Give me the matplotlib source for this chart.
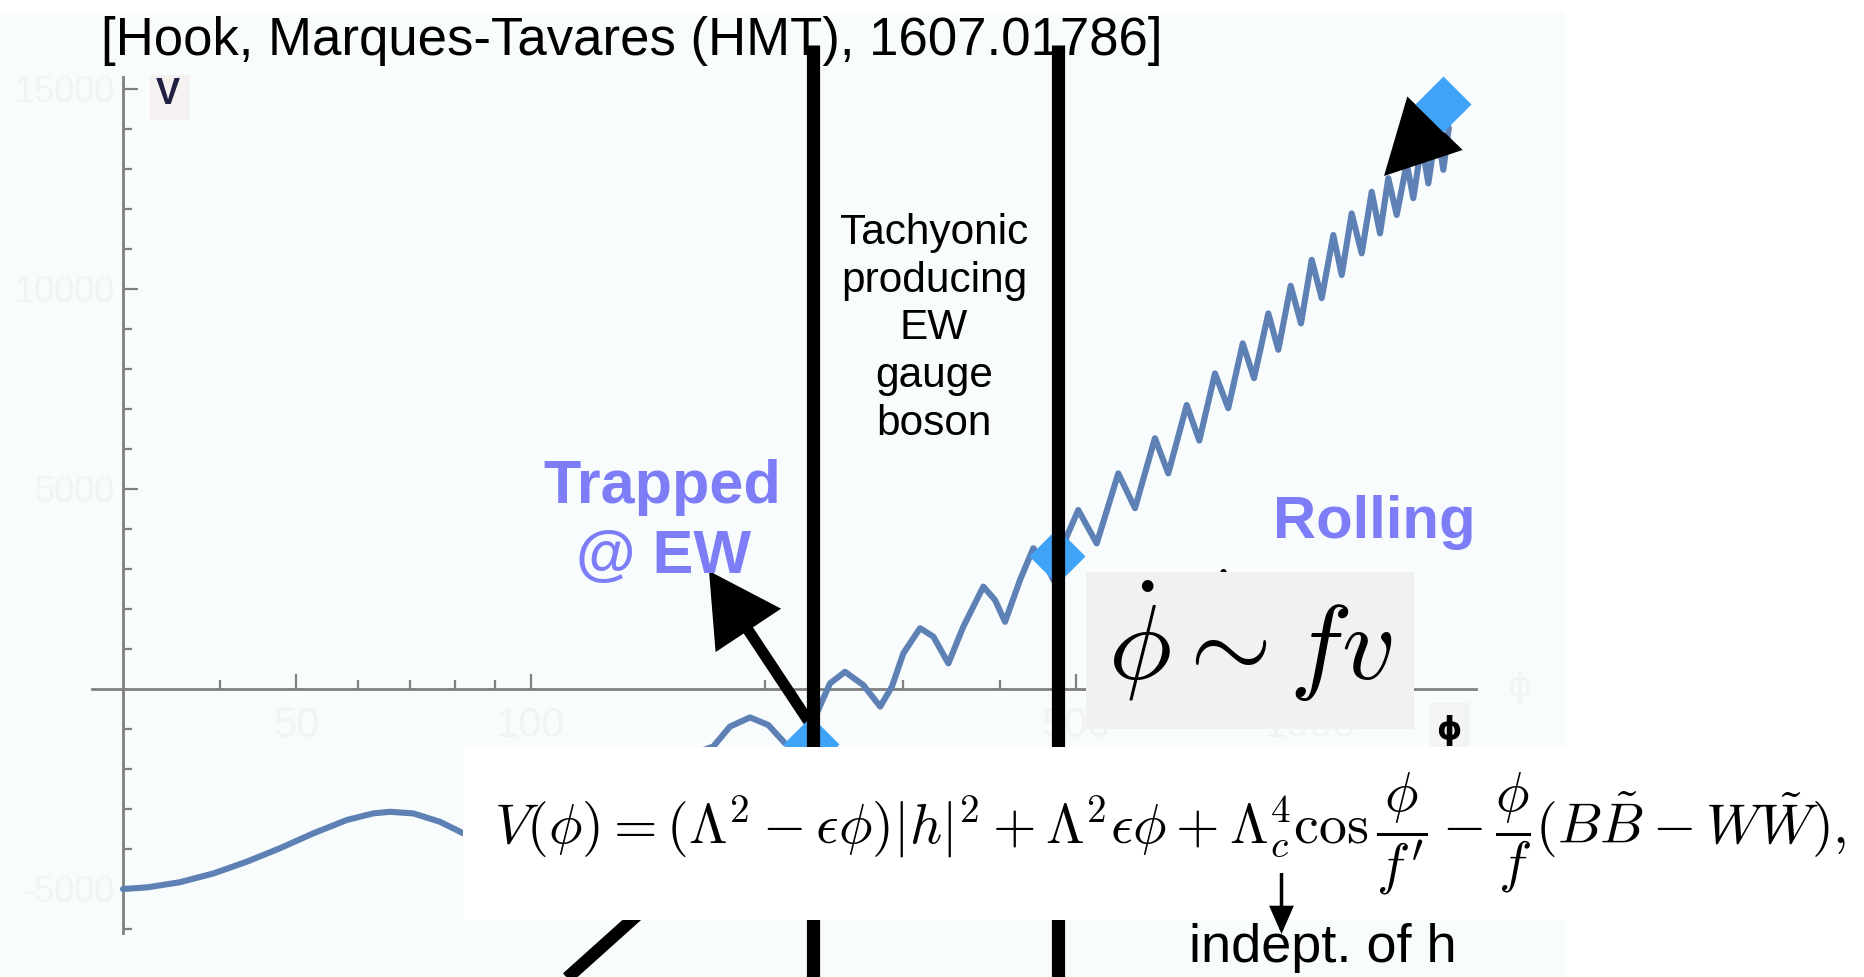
import matplotlib
matplotlib.use('Agg')
import matplotlib.pyplot as plt
import matplotlib.transforms as mtransforms
from matplotlib.patches import Rectangle, FancyArrowPatch, Circle
from matplotlib.lines import Line2D
from matplotlib.ticker import NullFormatter

plt.rcParams['mathtext.fontset'] = 'cm'
plt.rcParams['font.family'] = ['Liberation Sans', 'DejaVu Sans']

# ---------------- data ----------------
# potential V(phi), log-scaled phi axis; left branch (before the equation box)
phi_left = [30, 32.2, 35.5, 39.2, 43.2, 47.7, 52.6, 58.1, 62.8, 66.0, 70.7, 76.5, 82.0]
V_left = [-5000, -4960, -4830, -4610, -4320, -3980, -3610, -3275, -3110, -3070, -3110, -3320, -3610]
# wiggly rising branch (after the equation box)
phi_right = [171.4, 180.1, 191.1, 201.7, 212, 220, 232.7, 242, 253, 267, 280.7, 290.6,
             300.5, 315.7, 328.4, 343.3, 358.8, 380.6, 394, 405.8, 424.2, 441.2, 459, 469,
             486.9, 503.8, 532, 567, 595.7, 631.8, 657.2, 694, 720.3, 754.4, 784.6, 818.8,
             846.6, 883.1, 909.5, 943.4, 972.6, 1003.8, 1033.9, 1069.9, 1096.8, 1129.6,
             1163.5, 1198.4, 1228.2, 1258.6, 1290.2, 1328.9, 1355.1, 1389.1, 1416.5, 1452,
             1480.6, 1505]
V_right = [-1440, -940, -710, -900, -1360, -1450, -610, 140, 430, 100, -440, 60,
           890, 1520, 1310, 640, 1560, 2560, 2225, 1680, 2725, 3520, 3060, 2700,
           3810, 4475, 3640, 5390, 4520, 6270, 5390, 7100, 6210, 7890, 7020, 8640,
           7770, 9390, 8480, 10080, 9140, 10730, 9770, 11350, 10350, 11890,
           10890, 12430, 11390, 12770, 11850, 13140, 12270, 13650, 12640, 14060,
           12980, 14030]
# marked field values (blue diamonds)
diamond_phi = [229, 473, 1480]
diamond_V = [-1380, 3330, 14620]
# thresholds (thick black vertical lines)
threshold_phi = [230, 474]

# axis ticks
x_major_ticks = [50, 100, 500, 1000]
x_major_labels = ['50', '100', '500', '1000']
x_minor_ticks = [40, 60, 70, 80, 90, 200, 300, 400, 600, 700, 800, 900]
y_major_ticks = [-5000, 5000, 10000, 15000]
y_major_labels = ['-5000', '5000', '10000', '15000']
y_minor_ticks = [-6000, -4000, -3000, -2000, -1000, 1000, 2000, 3000, 4000,
                 6000, 7000, 8000, 9000, 11000, 12000, 13000, 14000]

title_text = '[Hook, Marques-Tavares (HMT), 1607.01786]'
tachyonic_lines = ['Tachyonic', 'producing', 'EW', 'gauge', 'boson']
trapped_lines = ['Trapped', '@ EW']
rolling_text = 'Rolling'
phidot_text = r'$\dot{\phi} \sim fv$'
equation_text = (r'$V(\phi) = (\Lambda^2 - \epsilon\phi)|h|^2 + \Lambda^2\epsilon\phi + '
                 r'\Lambda_c^4\cos\dfrac{\phi}{f^{\prime}} - \dfrac{\phi}{f}(B\tilde{B} - W\tilde{W}),$')
indep_text = 'indept. of h'

# ---------------- figure / axes ----------------
W, H = 1865, 977
fig = plt.figure(figsize=(W / 100, H / 100), dpi=100)
fig.patch.set_facecolor('white')
ax = fig.add_axes([0, 0, 1, 1])
ax.set_xscale('log')

PX50, PXDEC = 296.0, 779.7   # pixel of phi=50, pixels per decade
PY0, PYPER = 689.0, 25.0     # pixel of V=0, V units per pixel


def phi_at(px):
    return 50 * 10 ** ((px - PX50) / PXDEC)


def V_at(py):
    return (PY0 - py) * PYPER


ax.set_xlim(phi_at(0), phi_at(W))
ax.set_ylim(V_at(H), V_at(0))
ax.patch.set_visible(False)

# transform: figure pixels, origin top-left
T = mtransforms.Affine2D().scale(1 / W, -1 / H).translate(0, 1) + fig.transFigure

# light plot background
ax.add_patch(Rectangle((0, 12), 1565, 965, transform=T, facecolor='#F8FCFD',
                       edgecolor='none', zorder=0))

# axes (Mathematica-style, crossing at the origin)
for s in ['top', 'right']:
    ax.spines[s].set_visible(False)
ax.spines['left'].set_position(('data', 30))
ax.spines['bottom'].set_position(('data', 0))
ax.spines['left'].set_bounds(V_at(933), V_at(77))
ax.spines['bottom'].set_bounds(phi_at(91.7), phi_at(1476))
for s in ['left', 'bottom']:
    ax.spines[s].set_color('#808080')
    ax.spines[s].set_linewidth(2.0)
    ax.spines[s].set_zorder(1.6)

ax.set_xticks(x_major_ticks, labels=x_major_labels)
ax.set_xticks(x_minor_ticks, minor=True)
ax.xaxis.set_minor_formatter(NullFormatter())
ax.set_yticks(y_major_ticks, labels=y_major_labels)
ax.set_yticks(y_minor_ticks, minor=True)
ax.yaxis.set_minor_formatter(NullFormatter())
ghost = '#F2F3F4'
ax.tick_params(axis='both', which='major', direction='in', length=11, width=1.6,
               color='#808080', labelcolor=ghost, labelsize=26)
ax.tick_params(axis='x', which='major', labelsize=30)
ax.tick_params(axis='both', which='minor', direction='in', length=6.5, width=1.6,
               color='#808080')
ax.tick_params(axis='x', which='major', pad=12)
ax.tick_params(axis='y', which='major', pad=6)

# curve
ax.plot(phi_left + phi_right, V_left + V_right, color='#5E81B5', lw=4.4,
        solid_joinstyle='round', solid_capstyle='round', zorder=3)

# arrows
def arrow(p0, p1, lw, hl, hw, z=4.5):
    a = FancyArrowPatch(p0, p1, transform=T,
                        arrowstyle=f'-|>,head_length={hl},head_width={hw}',
                        mutation_scale=1, lw=lw, color='black', shrinkA=0, shrinkB=0,
                        joinstyle='miter', capstyle='butt', zorder=z)
    ax.add_patch(a)

arrow((813, 728), (709, 571), 8, 39, 21.5)
arrow((1441, 117), (1384, 176), 7.5, 41, 21.5)

# diamonds
ax.plot(diamond_phi, diamond_V, ls='none', marker='D', ms=29, color='#3FA3F7',
        mec='none', zorder=4.8)

# thick vertical lines
for p in threshold_phi:
    ax.axvline(p, ymin=0, ymax=1 - 45 / H, color='black', lw=9.5,
               solid_capstyle='butt', zorder=5)

# diagonal black stroke at the bottom
ax.add_line(Line2D([556, 644], [988, 909], transform=T, color='black', lw=9,
                   solid_capstyle='butt', zorder=5))

# title
ax.text(101, 55, title_text, transform=T, fontsize=38, ha='left', va='baseline',
        color='black', zorder=4.6)

# V axis label
ax.add_patch(Rectangle((150, 75), 40, 45, transform=T, facecolor='#F6F1F1',
                       edgecolor='none', zorder=2))
ax.text(168, 104, 'V', transform=T, fontsize=26, fontweight='bold', color='#1F2040',
        ha='center', va='baseline', zorder=3)

# Tachyonic text
for line, bl in zip(tachyonic_lines, [244, 292, 339, 387, 435]):
    ax.text(934, bl, line, transform=T, fontsize=30.5, ha='center', va='baseline',
            color='black', zorder=7)

blue = '#7D7DF7'
for line, (cx, bl) in zip(trapped_lines, [(662.5, 503), (664, 573)]):
    ax.text(cx, bl, line, transform=T, fontsize=44, fontweight='bold', color=blue,
            ha='center', va='baseline', zorder=7)
ax.text(1374, 538, rolling_text, transform=T, fontsize=43, fontweight='bold',
        color=blue, ha='center', va='baseline', zorder=7)

# phi-dot box
ax.add_patch(Rectangle((1086, 572), 328, 157, transform=T, facecolor='#F2F1F1',
                       edgecolor='none', zorder=8))
ax.add_patch(Circle((1223.5, 572), 3, transform=T, facecolor='black', edgecolor='none',
                    zorder=7.9))
ax.text(1250, 680, phidot_text, transform=T, fontsize=76, ha='center', va='baseline',
        color='black', zorder=9)

# phi axis label
ax.add_patch(Rectangle((1430, 703), 40, 44, transform=T, facecolor='#F3F4F4',
                       edgecolor='none', zorder=2))
ax.text(1449, 731, '\u03d5', transform=T, fontsize=23, fontweight='bold',
        family='DejaVu Sans', ha='center', va='center', color='black', zorder=9)
ax.text(1520, 687, '\u03d5', transform=T, fontsize=26, family='DejaVu Sans',
        ha='center', va='center', color=ghost, zorder=2)

# equation box
ax.add_patch(Rectangle((463, 747), 1410, 173, transform=T, facecolor='white',
                       edgecolor='none', zorder=10))
ax.text(494, 843, equation_text, transform=T, fontsize=40.3, ha='left', va='baseline',
        color='black', zorder=11)

# small arrow and note
arrow((1281.5, 873), (1281.5, 934), 2.5, 16, 7, z=11)
ax.text(1189, 962, indep_text, transform=T, fontsize=39, ha='left', va='baseline',
        color='black', zorder=11)

fig.savefig('out.png', dpi=100, facecolor='white')
